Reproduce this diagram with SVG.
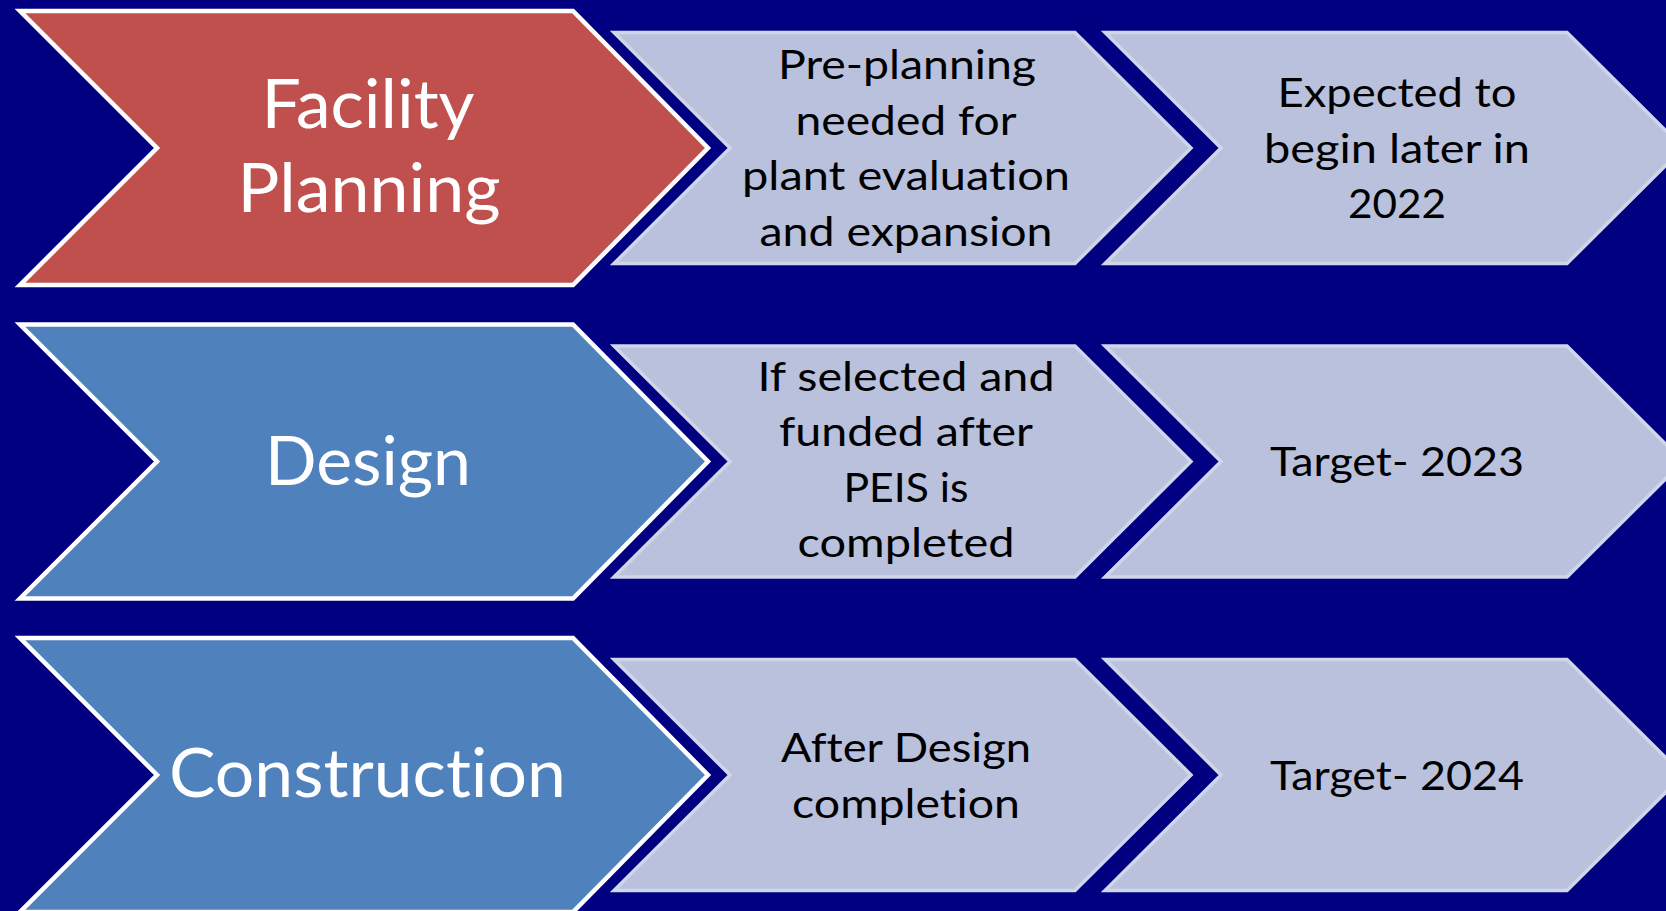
<svg xmlns="http://www.w3.org/2000/svg" width="1666" height="911" viewBox="0 0 1666 911">
<style>
.bg{fill:#000080}
.main{stroke:#ffffff;stroke-width:4.5;stroke-linejoin:miter}
.red{fill:#c0504d}
.blue{fill:#4f81bd}
.pale{fill:#b9c1dd;stroke:#d0d6ea;stroke-width:3.5;stroke-linejoin:miter}
text{font-variant-ligatures:none;font-feature-settings:"liga" 0,"clig" 0}
.big{font-family:Lato,"Liberation Sans",sans-serif;font-size:68px;fill:#ffffff;text-anchor:middle}
.sm{font-family:Lato,"Liberation Sans",sans-serif;font-size:41px;fill:#000000;text-anchor:middle}
</style>
<rect class="bg" x="0" y="0" width="1666" height="911"/>
<g id="connectors"/>
<g id="facility-planning">
<polygon class="main red" points="20,11 573,11 708,148 573,285 20,285 157,148"/>
<text class="big" x="368" y="128" textLength="213" lengthAdjust="spacingAndGlyphs">Facility</text>
<text class="big" x="369" y="212" textLength="263" lengthAdjust="spacingAndGlyphs">Planning</text>
</g>
<g id="pre-planning">
<polygon class="pale" points="614,32.5 1075,32.5 1191,148 1075,263.5 614,263.5 730,148"/>
<text class="sm" x="907" y="79" textLength="258" lengthAdjust="spacingAndGlyphs">Pre-planning</text>
<text class="sm" x="906" y="134.5" textLength="221" lengthAdjust="spacingAndGlyphs">needed for</text>
<text class="sm" x="906" y="190" textLength="328" lengthAdjust="spacingAndGlyphs">plant evaluation</text>
<text class="sm" x="906" y="245.5" textLength="293" lengthAdjust="spacingAndGlyphs">and expansion</text>
</g>
<g id="expected-2022">
<polygon class="pale" points="1105,32.5 1567,32.5 1683,148 1567,263.5 1105,263.5 1221,148"/>
<text class="sm" x="1397" y="107" textLength="239" lengthAdjust="spacingAndGlyphs">Expected to</text>
<text class="sm" x="1397" y="162.5" textLength="266" lengthAdjust="spacingAndGlyphs">begin later in</text>
<text class="sm" x="1397" y="217.5" textLength="98" lengthAdjust="spacingAndGlyphs">2022</text>
</g>
<g id="design">
<polygon class="main blue" points="20,324.5 573,324.5 708,461.5 573,598.5 20,598.5 157,461.5"/>
<text class="big" x="368" y="484.5" textLength="206" lengthAdjust="spacingAndGlyphs">Design</text>
</g>
<g id="if-selected">
<polygon class="pale" points="614,346 1075,346 1191,461.5 1075,577 614,577 730,461.5"/>
<text class="sm" x="906" y="391" textLength="297" lengthAdjust="spacingAndGlyphs">If selected and</text>
<text class="sm" x="906" y="446" textLength="254" lengthAdjust="spacingAndGlyphs">funded after</text>
<text class="sm" x="906" y="501.5" textLength="125" lengthAdjust="spacingAndGlyphs">PEIS is</text>
<text class="sm" x="906" y="557" textLength="217" lengthAdjust="spacingAndGlyphs">completed</text>
</g>
<g id="target-2023">
<polygon class="pale" points="1105,346 1567,346 1683,461.5 1567,577 1105,577 1221,461.5"/>
<text class="sm" x="1397" y="476" textLength="254" lengthAdjust="spacingAndGlyphs">Target- 2023</text>
</g>
<g id="construction">
<polygon class="main blue" points="20,638 573,638 708,775 573,912 20,912 157,775"/>
<text class="big" x="367.5" y="797" textLength="397" lengthAdjust="spacingAndGlyphs">Construction</text>
</g>
<g id="after-design">
<polygon class="pale" points="614,659.5 1075,659.5 1191,775 1075,890.5 614,890.5 730,775"/>
<text class="sm" x="906" y="762" textLength="250" lengthAdjust="spacingAndGlyphs">After Design</text>
<text class="sm" x="906" y="817.5" textLength="228" lengthAdjust="spacingAndGlyphs">completion</text>
</g>
<g id="target-2024">
<polygon class="pale" points="1105,659.5 1567,659.5 1683,775 1567,890.5 1105,890.5 1221,775"/>
<text class="sm" x="1397" y="789.5" textLength="254" lengthAdjust="spacingAndGlyphs">Target- 2024</text>
</g>
</svg>
